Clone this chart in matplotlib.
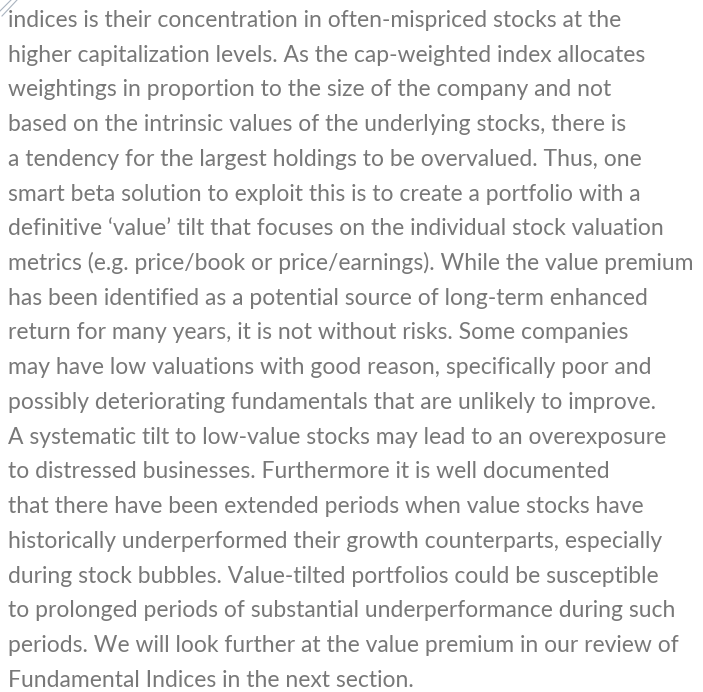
import matplotlib
matplotlib.use("Agg")
import matplotlib.pyplot as plt
from matplotlib.lines import Line2D

# text lines as they appear in the reference
text_lines = [
    "indices is their concentration in often-mispriced stocks at the",
    "higher capitalization levels. As the cap-weighted index allocates",
    "weightings in proportion to the size of the company and not",
    "based on the intrinsic values of the underlying stocks, there is",
    "a tendency for the largest holdings to be overvalued. Thus, one",
    "smart beta solution to exploit this is to create a portfolio with a",
    "definitive \u2018value\u2019 tilt that focuses on the individual stock valuation",
    "metrics (e.g. price/book or price/earnings). While the value premium",
    "has been identified as a potential source of long-term enhanced",
    "return for many years, it is not without risks. Some companies",
    "may have low valuations with good reason, specifically poor and",
    "possibly deteriorating fundamentals that are unlikely to improve.",
    "A systematic tilt to low-value stocks may lead to an overexposure",
    "to distressed businesses. Furthermore it is well documented",
    "that there have been extended periods when value stocks have",
    "historically underperformed their growth counterparts, especially",
    "during stock bubbles. Value-tilted portfolios could be susceptible",
    "to prolonged periods of substantial underperformance during such",
    "periods. We will look further at the value premium in our review of",
    "Fundamental Indices in the next section.",
]

W, H = 703, 692
fig = plt.figure(figsize=(W / 100, H / 100), dpi=100)
fig.patch.set_facecolor("white")

# decorative diagonal strokes in the corner
for (x0, y0, x1, y1) in [(0, 11, 11, 0), (2, 16, 17, 0)]:
    fig.add_artist(Line2D([x0 / W, x1 / W], [1 - y0 / H, 1 - y1 / H],
                          transform=fig.transFigure, color="#a9b3bf", lw=0.8))

first_base = 27.0
step = (686.7 - 27.0) / (len(text_lines) - 1)
for i, line in enumerate(text_lines):
    y = first_base + i * step
    fig.text(8 / W, 1 - y / H, line, ha="left", va="baseline",
             fontsize=16.5, family="Lato", weight="normal", color="#787878")

fig.savefig("out.png", dpi=100)
